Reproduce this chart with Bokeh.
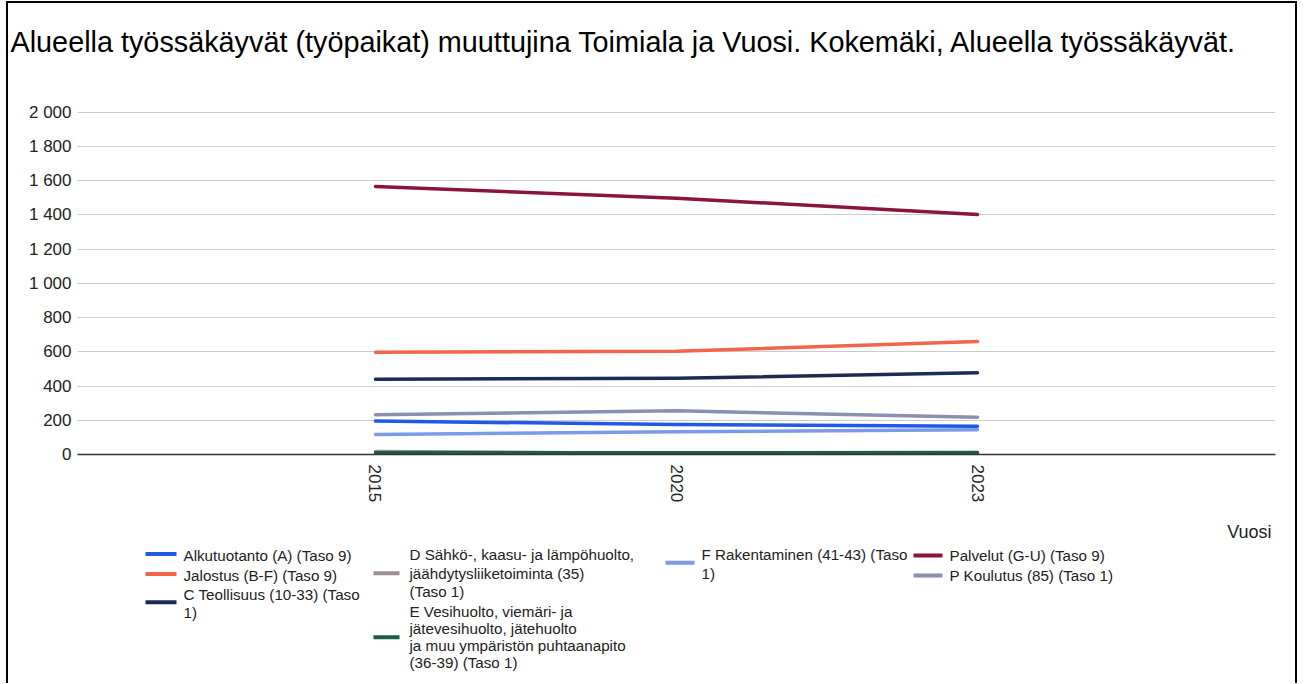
import math
from bokeh.plotting import figure
from bokeh.layouts import column
from bokeh.models import FactorRange, FixedTicker, Range1d, ColumnDataSource
from bokeh.core.properties import value
from bokeh.embed import file_html
from bokeh.resources import INLINE

# ---------------- data ----------------
years = ["2015", "2020", "2023"]
series_names = [
    "Alkutuotanto (A) (Taso 9)",
    "Jalostus (B-F) (Taso 9)",
    "C Teollisuus (10-33) (Taso 1)",
    "D Sähkö-, kaasu- ja lämpöhuolto, jäähdytysliiketoiminta (35) (Taso 1)",
    "E Vesihuolto, viemäri- ja jätevesihuolto, jätehuolto ja muu ympäristön puhtaanapito (36-39) (Taso 1)",
    "F Rakentaminen (41-43) (Taso 1)",
    "Palvelut (G-U) (Taso 9)",
    "P Koulutus (85) (Taso 1)",
]
alkutuotanto = [195, 175, 165]
jalostus = [597, 603, 660]
teollisuus = [440, 445, 477]
sahko = [18, 6, 5]
vesihuolto = [10, 10, 11]
rakentaminen = [117, 133, 145]
palvelut = [1565, 1497, 1402]
koulutus = [232, 255, 218]
series_values = [alkutuotanto, jalostus, teollisuus, sahko, vesihuolto,
                 rakentaminen, palvelut, koulutus]
colors = ["#2058e8", "#f2654b", "#1b2b55", "#9b918c", "#1d5b4f",
          "#7b9be9", "#8c1537", "#8990b0"]
ytick_values = [0, 200, 400, 600, 800, 1000, 1200, 1400, 1600, 1800, 2000]
ytick_labels = ["0", "200", "400", "600", "800", "1 000", "1 200", "1 400",
                "1 600", "1 800", "2 000"]
title_text = ("Alueella työssäkäyvät (työpaikat) muuttujina Toimiala ja Vuosi. "
              "Kokemäki, Alueella työssäkäyvät.")
x_axis_title = "Vuosi"

FONT = "Liberation Sans"
W = 1287
OX, OY = 8, 3            # page position of the canvas (margin + border)
T_H, M_H, L_H = 97, 417, 166


def blank_fig(h):
    f = figure(width=W, height=h, x_range=Range1d(0, W), y_range=Range1d(h, 0),
               x_axis_location=None, y_axis_location=None,
               output_backend="svg", toolbar_location=None, title=None,
               min_border=0, frame_align=False)
    f.outline_line_color = None
    f.grid.visible = False
    f.background_fill_color = "white"
    f.border_fill_color = "white"
    return f


# ---------------- title ----------------
pt = blank_fig(T_H)
pt.text(x=[10 - OX], y=[41.7 - OY], text=[title_text],
        text_font=value(FONT), text_font_size=value("28.8px"),
        text_color="#000000", text_align=value("left"),
        text_baseline=value("alphabetic"))

# ---------------- main chart ----------------
top0 = OY + T_H  # page y of main canvas top
p = figure(
    width=W, height=M_H,
    x_range=FactorRange(factors=years, range_padding=0.49,
                        range_padding_units="absolute"),
    y_range=Range1d(0, 2003),
    output_backend="svg", toolbar_location=None, title=None,
    min_border_left=77 - OX, min_border_right=W - (1275 - OX),
    min_border_top=111 - top0, min_border_bottom=M_H - (454 - top0),
    frame_align=False,
)
p.outline_line_color = None
p.background_fill_color = "white"
p.border_fill_color = "white"

p.xgrid.grid_line_color = None
p.ygrid.grid_line_color = "#cccccc"
p.ygrid.grid_line_width = 1
p.ygrid.ticker = FixedTicker(ticks=ytick_values)

p.yaxis.ticker = FixedTicker(ticks=ytick_values)
p.yaxis.major_label_overrides = {v: l for v, l in zip(ytick_values, ytick_labels)}
p.yaxis.axis_line_color = None
p.yaxis.major_tick_line_color = None
p.yaxis.minor_tick_line_color = None
p.yaxis.major_tick_out = 0
p.yaxis.major_tick_in = 0
p.yaxis.major_label_standoff = 6
p.yaxis.major_label_text_font = FONT
p.yaxis.major_label_text_font_size = "17px"
p.yaxis.major_label_text_color = "#222222"

p.xaxis.axis_line_color = "#333333"
p.xaxis.axis_line_width = 1.5
p.xaxis.major_tick_line_color = None
p.xaxis.minor_tick_line_color = None
p.xaxis.major_tick_out = 0
p.xaxis.major_tick_in = 0
p.xaxis.major_label_standoff = 10
p.xaxis.major_label_orientation = -math.pi / 2
p.xaxis.major_label_text_font = FONT
p.xaxis.major_label_text_font_size = "17px"
p.xaxis.major_label_text_color = "#222222"

for vals, col in zip(series_values, colors):
    p.line(x=years, y=vals, line_color=col, line_width=3.5, line_cap="round",
           line_join="round")

# ---------------- legend + axis title ----------------
top1 = top0 + M_H  # page y of legend canvas top
pl = blank_fig(L_H)
pl.text(x=[1271 - OX], y=[531 - top1], text=[x_axis_title],
        text_font=value(FONT), text_font_size=value("18px"),
        text_color="#222222", text_align=value("right"),
        text_baseline=value("middle"))

# (series index, swatch x0, swatch x1, swatch y, text x, [(line, y), ...]) in page px
legend_layout = [
    (0, 145, 176, 553.5, 183, [("Alkutuotanto (A) (Taso 9)", 555)]),
    (1, 145, 176, 573.5, 183, [("Jalostus (B-F) (Taso 9)", 575)]),
    (2, 145, 176, 601.7, 183, [("C Teollisuus (10-33) (Taso", 594), ("1)", 612)]),
    (3, 373, 399, 572.7, 409, [("D Sähkö-, kaasu- ja lämpöhuolto,", 554),
                               ("jäähdytysliiketoiminta (35)", 573),
                               ("(Taso 1)", 591)]),
    (4, 373, 399, 636.7, 409, [("E Vesihuolto, viemäri- ja", 611),
                               ("jätevesihuolto, jätehuolto", 627.5),
                               ("ja muu ympäristön puhtaanapito", 645),
                               ("(36-39) (Taso 1)", 662)]),
    (5, 665, 694, 562.3, 701, [("F Rakentaminen (41-43) (Taso", 554), ("1)", 573)]),
    (6, 913, 942, 555, 949, [("Palvelut (G-U) (Taso 9)", 555)]),
    (7, 913, 942, 575, 949, [("P Koulutus (85) (Taso 1)", 575)]),
]
sw = dict(x0=[], x1=[], y=[], c=[])
tx = dict(x=[], y=[], t=[])
for idx, x0, x1, ys, tx0, lines in legend_layout:
    sw["x0"].append(x0 - OX)
    sw["x1"].append(x1 - OX)
    sw["y"].append(ys - top1)
    sw["c"].append(colors[idx])
    for txt, ly in lines:
        tx["x"].append(tx0 - OX)
        tx["y"].append(ly - top1)
        tx["t"].append(txt)
pl.segment(x0="x0", y0="y", x1="x1", y1="y", line_color="c", line_width=4,
           source=ColumnDataSource(sw))
pl.text(x="x", y="y", text="t", source=ColumnDataSource(tx),
        text_font=value(FONT), text_font_size=value("15.2px"),
        text_color="#222222", text_align=value("left"),
        text_baseline=value("middle"))

layout = column(pt, p, pl, spacing=0)
layout.styles = {
    "border-top": "2px solid #000000",
    "border-left": "2px solid #000000",
    "border-right": "2px solid #000000",
    "margin-left": "6px",
    "margin-top": "1px",
}

open("out.html", "w").write(file_html(layout, INLINE))
